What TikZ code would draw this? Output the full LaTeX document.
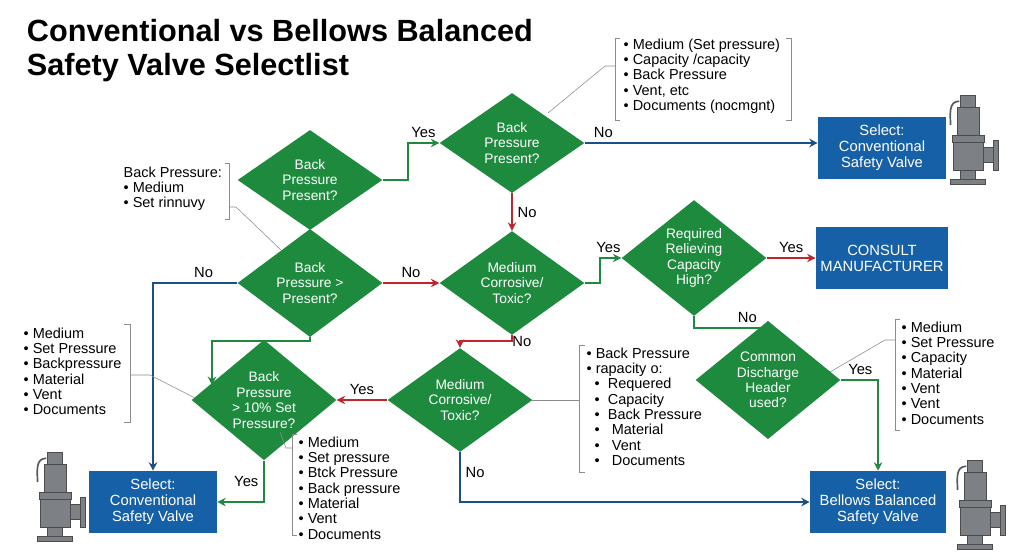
\documentclass[tikz,border=0pt]{standalone}
\usepackage{fontspec}
\setmainfont{Liberation Sans}
\usetikzlibrary{shapes.geometric,arrows.meta,positioning}
\definecolor{dgreen}{HTML}{1E8A3E}
\definecolor{dblue}{HTML}{1660A8}
\definecolor{lblue}{HTML}{1A4F8A}
\definecolor{dred}{HTML}{C0272D}
\definecolor{vgrey}{HTML}{7D8084}

\newcommand{\drawvalve}[2]{%
  \begin{scope}[shift={(#1,#2)},scale=1.25,fill=vgrey,draw=black!70,line width=0.3pt]
    \filldraw (-6,-36) rectangle (6,-26);
    \filldraw (-9,-26) rectangle (9,-4);
    \filldraw (-13,-4) rectangle (13,2);
    \filldraw (-12,2) rectangle (12,24);
    \filldraw (12,6) rectangle (20,18);
    \filldraw (20,0) rectangle (24,24);
    \filldraw (-6,24) rectangle (6,31);
    \filldraw (-14,31) rectangle (14,35);
    \draw[line width=1.2pt,draw=vgrey!70!black] (-7,-31) .. controls (-16,-31) and (-14,-20) .. (-14,-12);
  \end{scope}}

\begin{document}
\begin{tikzpicture}[x=0.025cm,y=-0.025cm]
  \tikzstyle{decision}=[diamond,fill=dgreen,text=white,minimum width=3.62cm,minimum height=2.5cm,inner sep=0pt,align=center,font=\fontsize{9.8}{11}\selectfont]
  \tikzstyle{result}=[rectangle,fill=dblue,text=white,minimum width=3.2cm,minimum height=1.55cm,align=center,font=\fontsize{10.5}{11.5}\selectfont]
  \tikzstyle{note}=[align=left,font=\fontsize{10.3}{10.9}\selectfont,inner sep=1pt]
  \tikzstyle{lbl}=[font=\fontsize{10.5}{12}\selectfont]
  \tikzstyle{leader}=[draw=black!45,line width=0.4pt]
  \tikzstyle{go}=[-{Stealth[length=6pt,width=6pt]},line width=1.4pt]
  \useasboundingbox (0,0) rectangle (1024,559);
  % title
  \node[anchor=north west,align=left,font=\fontsize{21.8}{24.5}\selectfont\bfseries] (title) at (22,14) {Conventional vs Bellows Balanced\\Safety Valve Selectlist};
  % decisions
  \node[decision] (bp1) at (310,180) {Back\\Pressure\\Present?};
  \node[decision] (bp2) at (310,283) {Back\\Pressure >\\Present?};
  \node[decision] (bp3) at (512,143) {Back\\Pressure\\Present?};
  \node[decision] (med1) at (512,283) {Medium\\Corrosive/\\Toxic?};
  \node[decision] (cap) at (694,258) {Required\\Relieving\\Capacity\\High?};
  \node[decision] (bp10) at (264,400) {Back\\Pressure\\> 10\% Set\\Pressure?};
  \node[decision] (med2) at (460,400) {Medium\\Corrosive/\\Toxic?};
  \node[decision] (hdr) at (768,380) {Common\\Discharge\\Header\\used?};
  % results
  \node[result] (conv1) at (882,148) {Select:\\Conventional\\Safety Valve};
  \node[result] (consult) at (882,258) {CONSULT\\MANUFACTURER};
  \node[result] (conv2) at (153,502) {Select:\\Conventional\\Safety Valve};
  \node[result,minimum width=3.4cm] (bell) at (878,502) {Select:\\Bellows Balanced\\Safety Valve};
  % connectors
  \draw[go,dgreen] (bp1.east) -- ++(25,0) |- (bp3.west) node[lbl,text=black,pos=0.75,above] {Yes};
  \draw[go,lblue] (bp3.east) -- (bp3.east -| conv1.west) node[lbl,text=black,pos=0.08,above] {No};
  \draw[go,dred] (bp3.south) -- (med1.north) node[lbl,text=black,midway,right] {No};
  \draw[go,dred] (bp2.east) -- (med1.west) node[lbl,text=black,midway,above] {No};
  \draw[go,lblue] (bp2.west) -| (conv2.north) node[lbl,text=black,pos=0.2,above] {No};
  \draw[go,dgreen] (med1.east) -- ++(15,0) |- (cap.west) node[lbl,text=black,pos=0.7,above] {Yes};
  \draw[go,dred] (cap.east) -- (consult.west) node[lbl,text=black,midway,above] {Yes};
  \draw[go,dgreen] (cap.south) |- ++(74,12) -- (hdr.north) node[lbl,text=black,pos=0.02,above left=0pt and 4pt] {No};
  \draw[go,dgreen] (bp2.south) -- ++(0,4) -| (212,385);
  \draw[go,dred] (med1.south) -- ++(0,6) -| (med2.north) node[lbl,text=black,pos=0.05,right] {No};
  \draw[go,dred] (med2.west) -- (bp10.east) node[lbl,text=black,midway,above] {Yes};
  \draw[go,lblue] (med2.south) |- (bell.west) node[lbl,text=black,pos=0.2,right] {No};
  \draw[go,dgreen] (bp10.south) |- (conv2.east) node[lbl,text=black,pos=0.25,left] {Yes};
  \draw[go,dgreen] (hdr.east) -| (bell.north) node[lbl,text=black,pos=0.5,above left] {Yes};
  % notes
  \node[note,anchor=north west] (n1) at (622,37) {• Medium (Set pressure)\\• Capacity /capacity\\• Back Pressure\\• Vent, etc\\• Documents (nocmgnt)};
  \draw[leader] (620,38) -- (615,38) -- (615,120) -- (620,120);
  \draw[leader] (786,38) -- (791,38) -- (791,120) -- (786,120);
  \draw[leader] (615,66) -- (605,66) -- (548,113);
  \node[note,anchor=north west] (n2) at (122,165) {Back Pressure:\\• Medium\\• Set rinnuvy};
  \draw[leader] (225,163) -- (229,163) -- (229,219) -- (225,219);
  \draw[leader] (229,207) -- (236,207) -- (281,250);
  \node[note,anchor=north west] (n3) at (22,326) {• Medium\\• Set Pressure\\• Backpressure\\• Material\\• Vent\\• Documents};
  \draw[leader] (124,324) -- (130,324) -- (130,422) -- (124,422);
  \draw[leader] (130,375) -- (150,375) -- (195,398);
  \node[note,anchor=north west] (n4) at (585,346) {• Back Pressure\\• rapacity o:\\\ \ •\ \ Requered\\\ \ •\ \ Capacity\\\ \ •\ \ Back Pressure\\\ \ •\ \ \ Material\\\ \ •\ \ \ Vent\\\ \ •\ \ \ Documents};
  \draw[leader] (585,345) -- (579,345) -- (579,472) -- (585,472);
  \draw[leader] (579,400) -- (532,400);
  \node[note,anchor=north west] (n5) at (297,435) {• Medium\\• Set pressure\\• Btck Pressure\\• Back pressure\\• Material\\• Vent\\• Documents};
  \draw[leader] (297,434) -- (292,434) -- (292,535) -- (297,535);
  \draw[leader] (292,448) -- (286,448) -- (280,432);
  \node[note,anchor=north west] (n6) at (900,320) {• Medium\\• Set Pressure\\• Capacity\\• Material\\• Vent\\• Vent\\• Documents};
  \draw[leader] (900,319) -- (895,319) -- (895,430) -- (900,430);
  \draw[leader] (895,340) -- (885,340) -- (830,372);
  % valves
  \drawvalve{968}{140}
  \drawvalve{975}{505}
  \drawvalve{55}{497}
\end{tikzpicture}
\end{document}
